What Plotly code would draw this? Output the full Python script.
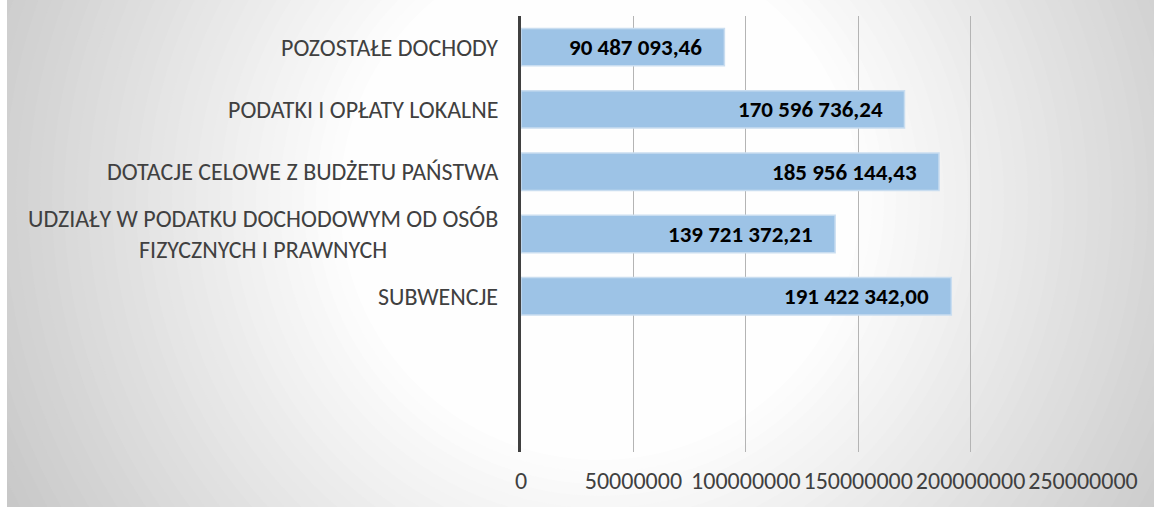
import plotly.graph_objects as go

# ---- data (bottom to top as drawn) ----
categories = [
    "SUBWENCJE",
    "UDZIAŁY W PODATKU DOCHODOWYM OD OSÓB<br>FIZYCZNYCH I PRAWNYCH",
    "DOTACJE CELOWE Z BUDŻETU PAŃSTWA",
    "PODATKI I OPŁATY LOKALNE",
    "POZOSTAŁE DOCHODY",
]
values = [191422342.00, 139721372.21, 185956144.43, 170596736.24, 90487093.46]
tick_values = [0, 50000000, 100000000, 150000000, 200000000, 250000000]
tick_labels = ["0", "50000000", "100000000", "150000000", "200000000", "250000000"]

W, H = 1154, 507
L, R, T, B = 521, 71, 16, 55
PW, PH = W - L - R, H - T - B

FONT = "Carlito, Calibri, Lato, sans-serif"
TXT = "#404040"


def pl(v):
    s = f"{v:,.2f}"
    return s.replace(",", " ").replace(".", ",")


fig = go.Figure()
fig.add_trace(go.Bar(
    x=values, y=categories, orientation="h",
    marker=dict(color="#9DC3E6", line=dict(color="#C9DDF0", width=1.5)),
    hoverinfo="skip", showlegend=False,
))

annotations = []
for c, v in zip(categories, values):
    annotations.append(dict(
        x=v, y=c, xref="x", yref="y", text=pl(v), showarrow=False,
        xanchor="right", xshift=-20,
        font=dict(family=FONT, size=23, color="#000000", weight="bold"),
    ))
    annotations.append(dict(
        x=0, y=c, xref="paper", yref="y", text=c, showarrow=False,
        xanchor="right", xshift=-21, align="center",
        font=dict(family=FONT, size=24, color=TXT),
    ))


# background radial gradient (styling only)
def px2paper(px, py):
    return (px - L) / PW, (H - B - py) / PH

shapes = []
cx, cy = 600, 200
for r in range(680, 249, -12):
    g = int(round(255 - 0.131 * (r - 250)))
    g = max(0, min(255, g))
    x0, y0 = px2paper(cx - r, cy + r)
    x1, y1 = px2paper(cx + r, cy - r)
    shapes.append(dict(type="circle", xref="paper", yref="paper",
                       x0=x0, y0=y0, x1=x1, y1=y1,
                       fillcolor=f"rgb({g},{g},{g})", line=dict(width=0),
                       layer="below"))
# white strip at left edge
sx0, sy0 = px2paper(-2, H + 2)
sx1, sy1 = px2paper(7, -2)
shapes.append(dict(type="rect", xref="paper", yref="paper",
                   x0=sx0, y0=sy0, x1=sx1, y1=sy1,
                   fillcolor="white", line=dict(width=0), layer="below"))

fig.update_layout(
    width=W, height=H,
    margin=dict(l=L, r=R, t=T, b=B, pad=0),
    paper_bgcolor="white",
    plot_bgcolor="rgba(0,0,0,0)",
    bargap=0.4,
    shapes=shapes,
    annotations=annotations,
    font=dict(family=FONT, color=TXT),
    xaxis=dict(
        range=[0, 250000000], tickvals=tick_values, ticktext=tick_labels,
        showgrid=True, gridcolor="#B4B4B4", gridwidth=1,
        zeroline=False, showline=False, ticks="",
        tickfont=dict(family=FONT, size=24, color=TXT),
        ticklabelstandoff=12,
    ),
    yaxis=dict(
        type="category", categoryorder="array", categoryarray=categories,
        range=[-2.5, 4.5], showticklabels=False, showgrid=False,
        showline=True, linecolor="#404040", linewidth=3, ticks="",
        zeroline=False,
    ),
)

fig.write_html("out.html")
